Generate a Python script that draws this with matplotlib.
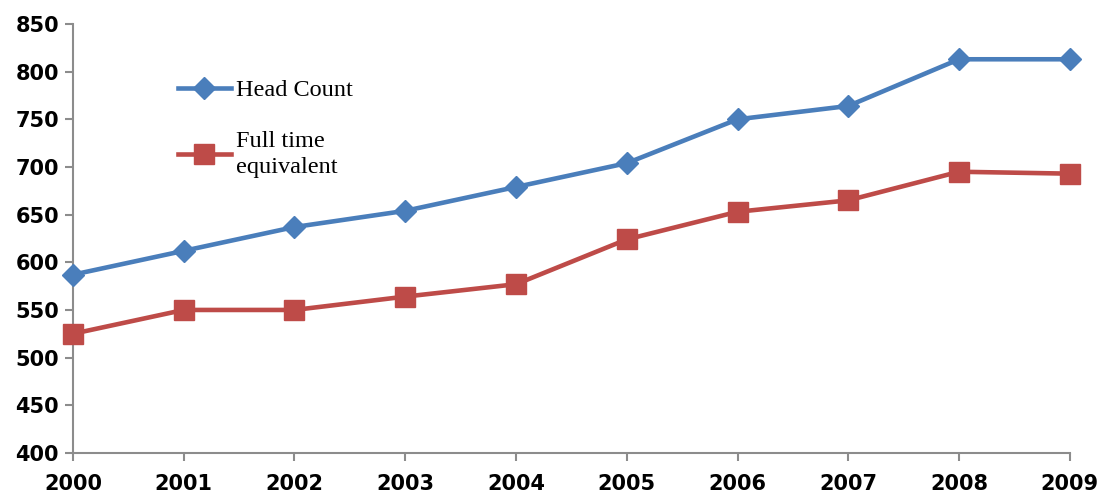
import matplotlib.pyplot as plt

# data
years = [2000, 2001, 2002, 2003, 2004, 2005, 2006, 2007, 2008, 2009]
head_count = [587, 612, 637, 654, 679, 704, 750, 764, 813, 813]
full_time = [525, 550, 550, 564, 577, 624, 653, 665, 695, 693]
y_ticks = [400, 450, 500, 550, 600, 650, 700, 750, 800, 850]

fig = plt.figure(figsize=(10.99, 4.95), dpi=100)
ax = fig.add_axes([0.0664, 0.085, 0.907, 0.8665])

blue = '#4A7EBB'
red = '#BE4B48'

ax.plot(years, head_count, color=blue, lw=3.3, marker='D', markersize=11,
        label='Head Count', clip_on=False, zorder=3)
ax.plot(years, full_time, color=red, lw=3.3, marker='s', markersize=14,
        label='Full time\nequivalent', clip_on=False, zorder=3)

ax.set_xlim(2000, 2009)
ax.set_ylim(400, 850)
ax.set_xticks(years)
ax.set_yticks(y_ticks)

for s in ['top', 'right']:
    ax.spines[s].set_visible(False)
for s in ['left', 'bottom']:
    ax.spines[s].set_color('#8c8c8c')
    ax.spines[s].set_linewidth(1.5)

ax.tick_params(axis='both', colors='#8c8c8c', width=1.5, length=6)
ax.tick_params(axis='x', pad=9)
ax.tick_params(axis='y', pad=4)
for lab in ax.get_xticklabels() + ax.get_yticklabels():
    lab.set_color('black')
    lab.set_fontweight('bold')
    lab.set_fontsize(15)

leg = ax.legend(loc='upper left', bbox_to_anchor=(0.083, 0.922), frameon=False,
                prop={'family': 'Liberation Serif', 'size': 17.5},
                handlelength=2.2, handletextpad=0.2, labelspacing=1.2)
for t in leg.get_texts():
    t.set_linespacing(1.35)

fig.savefig('out.png', dpi=100)
